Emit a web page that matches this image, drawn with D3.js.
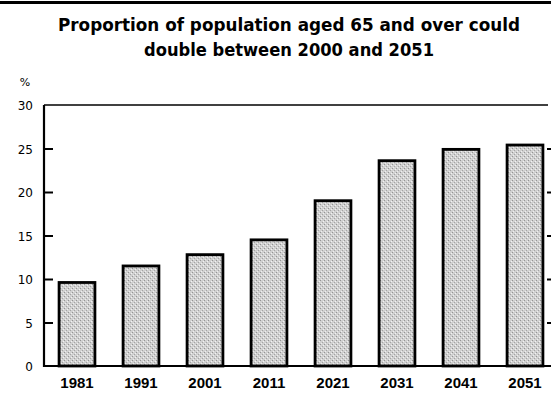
<!DOCTYPE html>
<html>
<head>
<meta charset="utf-8">
<script src="https://cdn.jsdelivr.net/npm/d3@7/dist/d3.min.js"></script>
<style>
  body { margin: 0; background: #fff; }
  svg { display: block; font-family: "Liberation Sans", Arial, sans-serif; }
</style>
</head>
<body>
<svg id="chart" width="551" height="393"></svg>
<script>
// ── Data ────────────────────────────────────────────────
const years  = ['1981', '1991', '2001', '2011', '2021', '2031', '2041', '2051'];
const values = [9.6, 11.5, 12.8, 14.5, 19.0, 23.6, 24.9, 25.4];
const yTicks = [0, 5, 10, 15, 20, 25, 30];
const titleLines = ['Proportion of population aged 65 and over could',
                    'double between 2000 and 2051'];
const titleWidths = [462, 290];

const W = 551, H = 393;
const m = { left: 44, top: 105, bottom: 366, right: 551 };

const svg = d3.select('#chart');

// stipple pattern for the bar fill
const defs = svg.append('defs');
const pat = defs.append('pattern')
  .attr('id', 'stip').attr('width', 4).attr('height', 4)
  .attr('patternUnits', 'userSpaceOnUse');
pat.append('rect').attr('width', 4).attr('height', 4).attr('fill', '#d0d0d0');
pat.append('rect').attr('x', 0).attr('y', 0).attr('width', 1).attr('height', 1).attr('fill', '#949494');
pat.append('rect').attr('x', 2).attr('y', 2).attr('width', 1).attr('height', 1).attr('fill', '#a4a4a4');
pat.append('rect').attr('x', 3).attr('y', 1).attr('width', 1).attr('height', 1).attr('fill', '#f2f2f2');
pat.append('rect').attr('x', 1).attr('y', 3).attr('width', 1).attr('height', 1).attr('fill', '#eeeeee');

// top rule
svg.append('rect')
  .attr('x', 0).attr('y', 1).attr('width', W).attr('height', 3)
  .attr('fill', '#000');

// title
svg.append('g').selectAll('text')
  .data(titleLines).join('text')
  .attr('x', 289).attr('y', (d, i) => 31 + i * 25)
  .attr('text-anchor', 'middle')
  .attr('font-family', '"DejaVu Sans", sans-serif')
  .attr('font-size', 17).attr('font-weight', 'bold')
  .attr('textLength', (d, i) => titleWidths[i])
  .attr('lengthAdjust', 'spacingAndGlyphs')
  .text(d => d);

// % label
svg.append('text')
  .attr('x', 25).attr('y', 86)
  .attr('text-anchor', 'middle')
  .attr('font-family', '"DejaVu Sans", sans-serif')
  .attr('font-size', 11)
  .text('%');

// ── Scales ──────────────────────────────────────────────
const x = d3.scaleBand()
  .domain(years)
  .range([45, 557])
  .paddingInner(0.44)
  .paddingOuter(0.22);

const y = d3.scaleLinear()
  .domain([0, 30])
  .range([m.bottom, m.top]);

// ── Axes ────────────────────────────────────────────────
const yAxis = svg.append('g')
  .attr('transform', `translate(${m.left},0)`)
  .call(d3.axisRight(y).tickValues(yTicks).tickSize(9).tickFormat(() => ''));
yAxis.select('.domain').remove();
yAxis.selectAll('.tick line').attr('stroke-width', 2);
yAxis.selectAll('.tick').filter(d => d === 0 || d === 30).remove();

const yAxisR = svg.append('g')
  .attr('transform', `translate(${m.right},0)`)
  .call(d3.axisLeft(y).tickValues(yTicks).tickSize(4).tickFormat(() => ''));
yAxisR.select('.domain').remove();
yAxisR.selectAll('.tick line').attr('stroke-width', 2);
yAxisR.selectAll('.tick').filter(d => d === 0 || d === 30).remove();

// y tick labels
svg.append('g').selectAll('text')
  .data(yTicks).join('text')
  .attr('x', 33).attr('y', d => y(d) + 5)
  .attr('text-anchor', 'end')
  .attr('font-family', '"DejaVu Sans", sans-serif')
  .attr('font-size', 12)
  .text(d => d);

// frame
svg.append('line')
  .attr('x1', m.left).attr('x2', m.left).attr('y1', y(30)).attr('y2', y(0) + 1)
  .attr('stroke', '#000').attr('stroke-width', 2.2);
svg.append('line')
  .attr('x1', m.left).attr('x2', 548).attr('y1', y(30)).attr('y2', y(30))
  .attr('stroke', '#000').attr('stroke-width', 1.6);
svg.append('line')
  .attr('x1', m.left - 1).attr('x2', W).attr('y1', y(0)).attr('y2', y(0))
  .attr('stroke', '#000').attr('stroke-width', 2.2);

// ── Bars ────────────────────────────────────────────────
svg.append('g').selectAll('rect')
  .data(values).join('rect')
  .attr('x', (d, i) => x(years[i]))
  .attr('y', d => y(d))
  .attr('width', x.bandwidth())
  .attr('height', d => y(0) - y(d))
  .attr('fill', 'url(#stip)')
  .attr('stroke', '#000')
  .attr('stroke-width', 2.8);

// x labels
svg.append('g').selectAll('text')
  .data(years).join('text')
  .attr('x', d => x(d) + x.bandwidth() / 2)
  .attr('y', 388)
  .attr('text-anchor', 'middle')
  .attr('font-size', 15).attr('font-weight', 'bold')
  .text(d => d);
</script>
</body>
</html>
